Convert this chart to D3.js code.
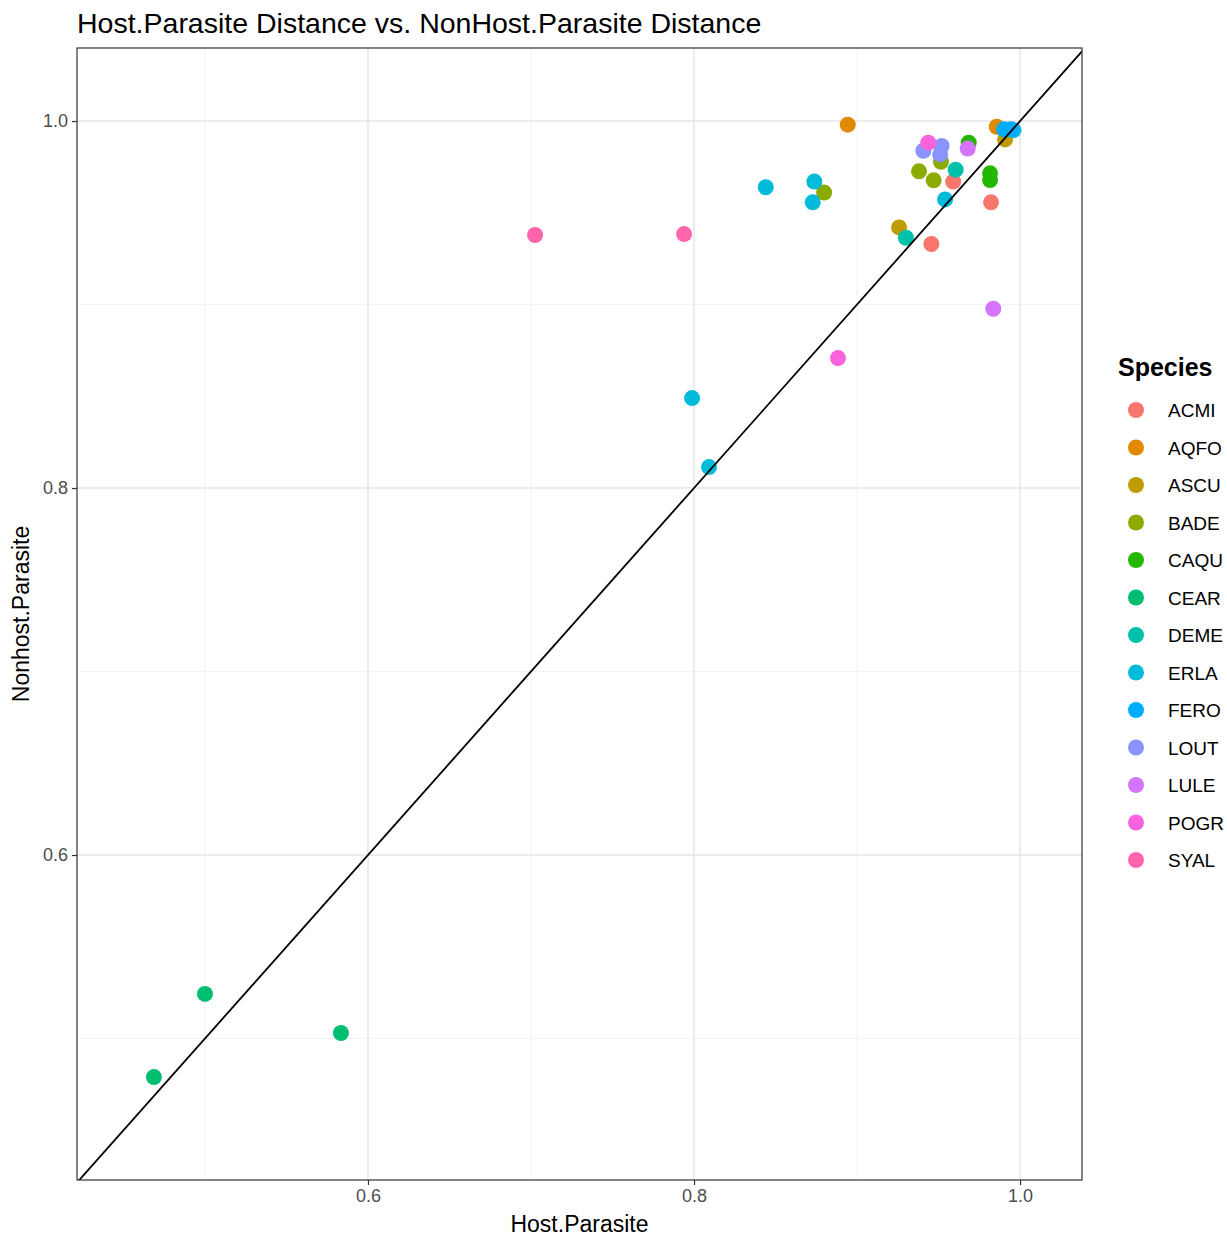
<!DOCTYPE html>
<html>
<head>
<meta charset="utf-8">
<script src="https://cdn.jsdelivr.net/npm/d3@7"></script>
<style>
  body { margin: 0; background: #fff; }
  text { font-family: "Liberation Sans", Arial, sans-serif; }
</style>
</head>
<body>
<svg id="chart" width="1227" height="1236"></svg>
<script>
var speciesLevels = ["ACMI","AQFO","ASCU","BADE","CAQU","CEAR","DEME","ERLA","FERO","LOUT","LULE","POGR","SYAL"];
var speciesColors = ["#F8766D","#E18A00","#BE9C00","#8CAB00","#24B700","#00BE70","#00C1AB","#00BBDA","#00ACFC","#8B93FF","#D575FE","#F962DD","#FF65AC"];

// one entry per point
var pointSpecies = ["ACMI","ACMI","ACMI","AQFO","AQFO","ASCU","ASCU","BADE","BADE","BADE","BADE",
  "CAQU","CAQU","CAQU","CEAR","CEAR","CEAR","DEME","DEME",
  "ERLA","ERLA","ERLA","ERLA","ERLA","ERLA","ERLA","FERO","FERO",
  "LOUT","LOUT","LOUT","LULE","LULE","POGR","POGR","SYAL","SYAL"];
var hostParasite = [0.9456,0.9590,0.9822,0.8943,0.9857,0.9258,0.9908,0.8798,0.9380,0.9470,0.9515,
  0.9685,0.9816,0.9816,0.4687,0.5000,0.5834,0.9300,0.9605,
  0.8440,0.8738,0.8728,0.9540,0.7988,0.8092,0.9960,0.9902,0.9945,
  0.9407,0.9519,0.9510,0.9679,0.9836,0.9437,0.8883,0.7025,0.7939];
var nonhostParasite = [0.9330,0.9670,0.9557,0.9980,0.9969,0.9420,0.9900,0.9610,0.9726,0.9677,0.9778,
  0.9882,0.9715,0.9678,0.4790,0.5243,0.5030,0.9364,0.9735,
  0.9639,0.9670,0.9557,0.9573,0.8490,0.8114,0.9950,0.9955,0.9955,
  0.9838,0.9864,0.9818,0.9850,0.8977,0.9882,0.8708,0.9379,0.9384];

var xTicks = [0.6, 0.8, 1.0];
var yTicks = [0.6, 0.8, 1.0];
var xMinor = [0.5, 0.7, 0.9];
var yMinor = [0.5, 0.7, 0.9];

(function() {
  var svg = d3.select("#chart");
  var pLeft = 77, pRight = 1082, pTop = 48, pBottom = 1180;

  var x = d3.scaleLinear().domain([0.4215, 1.038]).range([pLeft, pRight]);
  var y = d3.scaleLinear().domain([0.4229, 1.0398]).range([pBottom, pTop]);
  var color = d3.scaleOrdinal().domain(speciesLevels).range(speciesColors);

  var panel = svg.append("g");

  // grid
  panel.selectAll(".xminor").data(xMinor).enter().append("line")
    .attr("x1", d => x(d)).attr("x2", d => x(d)).attr("y1", pTop).attr("y2", pBottom)
    .attr("stroke", "#EFEFEF").attr("stroke-width", 0.8);
  panel.selectAll(".yminor").data(yMinor).enter().append("line")
    .attr("y1", d => y(d)).attr("y2", d => y(d)).attr("x1", pLeft).attr("x2", pRight)
    .attr("stroke", "#EFEFEF").attr("stroke-width", 0.8);
  panel.selectAll(".xmajor").data(xTicks).enter().append("line")
    .attr("x1", d => x(d)).attr("x2", d => x(d)).attr("y1", pTop).attr("y2", pBottom)
    .attr("stroke", "#E6E6E6").attr("stroke-width", 1.5);
  panel.selectAll(".ymajor").data(yTicks).enter().append("line")
    .attr("y1", d => y(d)).attr("y2", d => y(d)).attr("x1", pLeft).attr("x2", pRight)
    .attr("stroke", "#E6E6E6").attr("stroke-width", 1.5);

  // points
  var pts = pointSpecies.map(function(s, i) {
    return {species: s, hp: hostParasite[i], np: nonhostParasite[i]};
  });
  panel.append("g").selectAll("circle").data(pts).enter().append("circle")
    .attr("cx", d => x(d.hp)).attr("cy", d => y(d.np)).attr("r", 8)
    .attr("fill", d => color(d.species));

  // y = x reference line, clipped to panel
  svg.append("clipPath").attr("id", "clip").append("rect")
    .attr("x", pLeft).attr("y", pTop).attr("width", pRight - pLeft).attr("height", pBottom - pTop);
  svg.append("line").attr("clip-path", "url(#clip)")
    .attr("x1", x(0.40)).attr("y1", y(0.40)).attr("x2", x(1.05)).attr("y2", y(1.05))
    .attr("stroke", "#000").attr("stroke-width", 1.8);

  // border
  svg.append("rect").attr("x", pLeft).attr("y", pTop).attr("width", pRight - pLeft).attr("height", pBottom - pTop)
    .attr("fill", "none").attr("stroke", "#333").attr("stroke-width", 1.2);

  // axes
  var xAxis = svg.append("g").attr("transform", "translate(0," + pBottom + ")")
    .call(d3.axisBottom(x).tickValues(xTicks).tickFormat(d3.format(".1f")).tickSize(5).tickPadding(4));
  var yAxis = svg.append("g").attr("transform", "translate(" + pLeft + ",0)")
    .call(d3.axisLeft(y).tickValues(yTicks).tickFormat(d3.format(".1f")).tickSize(5).tickPadding(4));
  [xAxis, yAxis].forEach(function(a) {
    a.select(".domain").remove();
    a.selectAll(".tick line").attr("stroke", "#333").attr("stroke-width", 1.2);
    a.selectAll(".tick text").attr("fill", "#4D4D4D").style("font-size", "18px")
      .style("font-family", "'Liberation Sans', Arial, sans-serif");
  });

  // titles
  svg.append("text").attr("x", 77).attr("y", 33).attr("font-size", 28.5).attr("fill", "#000")
    .text("Host.Parasite Distance vs. NonHost.Parasite Distance");
  svg.append("text").attr("x", (pLeft + pRight) / 2).attr("y", 1232).attr("text-anchor", "middle")
    .attr("font-size", 23).attr("fill", "#000").text("Host.Parasite");
  svg.append("text").attr("transform", "translate(29," + ((pTop + pBottom) / 2) + ") rotate(-90)")
    .attr("text-anchor", "middle").attr("font-size", 23).attr("fill", "#000").text("Nonhost.Parasite");

  // legend
  var leg = svg.append("g");
  leg.append("text").attr("x", 1118).attr("y", 376).attr("font-size", 25).attr("font-weight", "bold")
    .attr("fill", "#000").text("Species");
  var items = leg.selectAll(".item").data(speciesLevels).enter().append("g")
    .attr("transform", (d, i) => "translate(0," + (410 + i * 37.5) + ")");
  items.append("circle").attr("cx", 1136).attr("cy", 0).attr("r", 8).attr("fill", d => color(d));
  items.append("text").attr("x", 1168).attr("y", 7).attr("font-size", 19).attr("fill", "#000").text(d => d);
})();
</script>
</body>
</html>
